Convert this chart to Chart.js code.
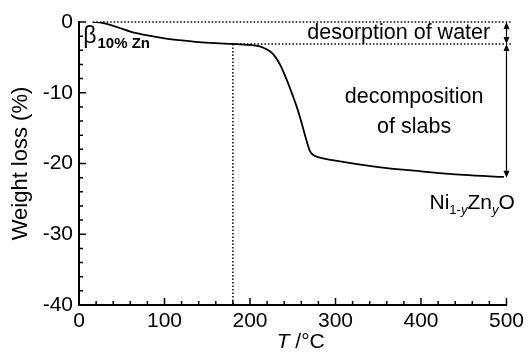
<!DOCTYPE html>
<html>
<head>
<meta charset="utf-8">
<script src="https://cdn.jsdelivr.net/npm/chart.js@4/dist/chart.umd.min.js"></script>
<style>
  html, body { margin: 0; padding: 0; background: #fff; }
  #wrap { width: 528px; height: 353px; }
</style>
</head>
<body>
<div id="wrap"><canvas id="tga" width="528" height="353"></canvas></div>
<script>
// TGA trace, temperature (°C) vs weight loss (%)
const temps = [16, 20, 30, 40, 50, 60, 70, 80, 100, 120, 140, 160, 180, 200, 210, 215, 220, 225, 230, 235, 240, 245, 250, 255, 260, 265, 270, 274, 280, 300, 350, 400, 450, 497];
const weightLoss = [0, 0, -0.2, -0.55, -0.95, -1.35, -1.65, -1.9, -2.3, -2.6, -2.85, -3.0, -3.1, -3.25, -3.4, -3.6, -3.9, -4.3, -5.0, -6.0, -7.3, -8.8, -10.4, -12.1, -14.1, -16.3, -18.2, -18.8, -19.1, -19.6, -20.5, -21.1, -21.6, -21.9];

const xTicks = [0, 100, 200, 300, 400, 500];
const yTicks = [-40, -30, -20, -10, 0];

// marker levels
const waterLevel = -3.1;
const onsetT = 180;
const finalLevel = -22;
const arrowT = 500;

const FONT = 'Liberation Sans, Arial, sans-serif';

function dotted(ctx, x1, y1, x2, y2) {
  ctx.save();
  ctx.strokeStyle = '#000';
  ctx.lineWidth = 1.5;
  ctx.setLineDash([1.5, 2]);
  ctx.beginPath();
  ctx.moveTo(x1, y1);
  ctx.lineTo(x2, y2);
  ctx.stroke();
  ctx.restore();
}

function arrowHead(ctx, x, y, dir) {
  ctx.beginPath();
  ctx.moveTo(x, y);
  ctx.lineTo(x - 3, y - dir * 7);
  ctx.lineTo(x + 3, y - dir * 7);
  ctx.closePath();
  ctx.fill();
}

function vArrow(ctx, x, y1, y2) {
  ctx.save();
  ctx.strokeStyle = '#000';
  ctx.fillStyle = '#000';
  ctx.lineWidth = 1.2;
  ctx.beginPath();
  ctx.moveTo(x, y1 + 3);
  ctx.lineTo(x, y2 - 3);
  ctx.stroke();
  arrowHead(ctx, x, y1, -1);
  arrowHead(ctx, x, y2, 1);
  ctx.restore();
}

const decorations = {
  id: 'decorations',
  afterDatasetsDraw(chart) {
    const { ctx, scales: { x, y } } = chart;
    const x0 = x.getPixelForValue(onsetT);
    const yTop = y.getPixelForValue(0);
    const yWater = y.getPixelForValue(waterLevel);
    const yEnd = y.getPixelForValue(finalLevel);
    const xRight = x.getPixelForValue(505);

    dotted(ctx, x.getPixelForValue(16), yTop, xRight, yTop);
    dotted(ctx, x0, yWater, xRight, yWater);
    dotted(ctx, x0, yWater, x0, y.getPixelForValue(-40));

    const xa = x.getPixelForValue(arrowT);
    vArrow(ctx, xa, yTop, yWater);
    vArrow(ctx, xa, yWater, yEnd);

    ctx.save();
    ctx.fillStyle = '#000';
    ctx.textBaseline = 'middle';
    ctx.textAlign = 'center';
    ctx.font = '21.5px ' + FONT;
    ctx.fillText('desorption of water', x.getPixelForValue(374), y.getPixelForValue(-1.6));
    ctx.fillText('decomposition', x.getPixelForValue(392), y.getPixelForValue(-10.6));
    ctx.fillText('of slabs', x.getPixelForValue(392), y.getPixelForValue(-14.8));

    // beta label with subscript
    ctx.textAlign = 'left';
    ctx.textBaseline = 'alphabetic';
    let bx = x.getPixelForValue(5);
    const by = y.getPixelForValue(-2.9);
    ctx.font = '23px ' + FONT;
    ctx.fillText('β', bx, by);
    bx += ctx.measureText('β').width + 1;
    ctx.font = 'bold 15px ' + FONT;
    ctx.fillText('10% Zn', bx, by + 5);

    // Ni(1-y)Zn(y)O
    let nx = x.getPixelForValue(410);
    const ny = y.getPixelForValue(-26.4);
    const parts = [['Ni', false], ['1-', true], ['y', true, true], ['Zn', false], ['y', true, true], ['O', false]];
    for (const [t, sub, ital] of parts) {
      ctx.font = (ital ? 'italic ' : '') + (sub ? '13px ' : '21px ') + FONT;
      ctx.fillText(t, nx, sub ? ny + 5 : ny);
      nx += ctx.measureText(t).width;
    }

    // x axis title, italic T
    ctx.font = '21px ' + FONT;
    const rest = ' /°C';
    ctx.font = 'italic 21px ' + FONT;
    const wT = ctx.measureText('T').width;
    ctx.font = '21px ' + FONT;
    const wR = ctx.measureText(rest).width;
    let tx = (x.left + x.right) / 2 - (wT + wR) / 2 + 8;
    const ty = 348;
    ctx.font = 'italic 21px ' + FONT;
    ctx.fillText('T', tx, ty);
    ctx.font = '21px ' + FONT;
    ctx.fillText(rest, tx + wT, ty);
    ctx.restore();
  }
};

// inward ticks on the left and bottom axes
const inwardTicks = {
  id: 'inwardTicks',
  afterDraw(chart) {
    const { ctx, scales: { x, y } } = chart;
    ctx.save();
    ctx.strokeStyle = '#000';
    ctx.lineWidth = 1.5;
    ctx.beginPath();
    for (let v = 0; v <= 500; v += 20) {
      const px = x.getPixelForValue(v);
      const len = v % 100 === 0 ? 7 : 4;
      ctx.moveTo(px, y.bottom);
      ctx.lineTo(px, y.bottom - len);
    }
    for (let v = -40; v <= 0; v += 2) {
      const py = y.getPixelForValue(v);
      const len = v % 10 === 0 ? 7 : 4;
      ctx.moveTo(x.left, py);
      ctx.lineTo(x.left + len, py);
    }
    ctx.stroke();
    ctx.restore();
  }
};

new Chart(document.getElementById('tga'), {
  type: 'line',
  data: {
    datasets: [{
      data: temps.map((t, i) => ({ x: t, y: weightLoss[i] })),
      borderColor: '#000',
      borderWidth: 1.8,
      pointRadius: 0,
      cubicInterpolationMode: 'monotone',
      fill: false
    }]
  },
  options: {
    responsive: false,
    animation: false,
    layout: { padding: { top: 22, right: 19, left: 0, bottom: 0 } },
    plugins: { legend: { display: false }, tooltip: { enabled: false } },
    scales: {
      x: {
        type: 'linear',
        min: 0, max: 500,
        afterBuildTicks: s => { s.ticks = xTicks.map(v => ({ value: v })); },
        afterFit: s => { s.height = 48; },
        grid: { display: false, drawTicks: false },
        border: { color: '#000', width: 2 },
        ticks: { color: '#000', font: { family: FONT, size: 21 }, padding: 4, maxRotation: 0 },
        title: { display: false }
      },
      y: {
        min: -40, max: 0,
        afterBuildTicks: s => { s.ticks = yTicks.map(v => ({ value: v })); },
        afterFit: s => { s.width = 79; },
        grid: { display: false, drawTicks: false },
        border: { color: '#000', width: 2 },
        ticks: { color: '#000', font: { family: FONT, size: 21 }, padding: 6 },
        title: { display: true, text: 'Weight loss (%)', color: '#000', font: { family: FONT, size: 22 }, padding: { top: 8, bottom: 0 } }
      }
    }
  },
  plugins: [decorations, inwardTicks]
});
</script>
</body>
</html>
